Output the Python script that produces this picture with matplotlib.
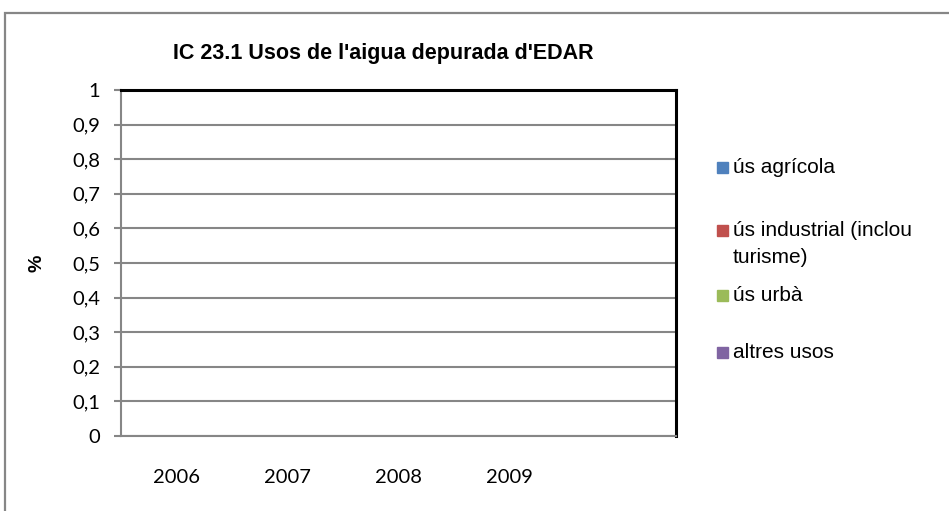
import numpy as np
import matplotlib
matplotlib.use("Agg")
import matplotlib.pyplot as plt
from matplotlib.patches import Rectangle

# data (the chart is empty: no values were entered for any year)
years = ["2006", "2007", "2008", "2009", ""]
series = ["ús agrícola", "ús industrial (inclou\nturisme)", "ús urbà", "altres usos"]
agricola = [0, 0, 0, 0, 0]
industrial = [0, 0, 0, 0, 0]
urba = [0, 0, 0, 0, 0]
altres = [0, 0, 0, 0, 0]
colors = ["#4F81BD", "#C0504D", "#9BBB59", "#8064A2"]
yticks = [0, 0.1, 0.2, 0.3, 0.4, 0.5, 0.6, 0.7, 0.8, 0.9, 1]

W, H = 949, 511
fig = plt.figure(figsize=(W / 100, H / 100), dpi=100)
ax = fig.add_axes([121 / W, 1 - 436 / H, 555 / W, 346 / H])

grey = "#868686"
x = np.arange(len(years))
width = 0.18
for i, (vals, c) in enumerate(zip([agricola, industrial, urba, altres], colors)):
    ax.bar(x + (i - 1.5) * width, vals, width, color=c)

ax.set_xlim(-0.5, len(years) - 0.5)
ax.set_ylim(0, 1)
ax.set_yticks(yticks)
ax.set_yticklabels([("%g" % v).replace(".", ",") for v in yticks],
                   fontfamily="Lato", fontsize=14.5)
ax.set_xticks(x)
ax.set_xticklabels(years, fontfamily="Lato", fontsize=14.5)
ax.tick_params(axis="x", length=0, pad=24)
ax.tick_params(axis="y", length=5, width=1.5, color=grey, pad=10)
ax.grid(axis="y", color=grey, linewidth=1.5)
ax.set_axisbelow(True)

for s in ["left", "bottom"]:
    ax.spines[s].set_color(grey)
    ax.spines[s].set_linewidth(1.5)
for s in ["top", "right"]:
    ax.spines[s].set_color("black")
    ax.spines[s].set_linewidth(2.2)

fig.text(37 / W, 1 - 263 / H, "%", fontfamily="Liberation Sans", fontweight="bold",
         fontsize=14, rotation=90, ha="center", va="center")
fig.text(383 / W, 1 - 54 / H, "IC 23.1 Usos de l'aigua depurada d'EDAR",
         fontfamily="Liberation Sans", fontweight="bold", fontsize=15.5,
         ha="center", va="center")

# legend entries (Excel-style, uneven spacing)
leg_y = [168, 231, 296, 353]
for name, c, yy in zip(series, colors, leg_y):
    fig.patches.append(Rectangle((717 / W, 1 - (yy + 5) / H), 11 / W, 11 / H,
                                 transform=fig.transFigure, color=c))
    fig.text(733 / W, 1 - (yy - 10) / H, name, fontfamily="Liberation Sans",
             fontsize=15, ha="left", va="top", linespacing=1.55)

# outer chart border
fig.patches.append(Rectangle((5 / W, -0.05), 1.1, 1 - 13 / H + 0.05,
                             transform=fig.transFigure, fill=False,
                             edgecolor=grey, linewidth=1.6))

fig.savefig("out.png", dpi=100)
